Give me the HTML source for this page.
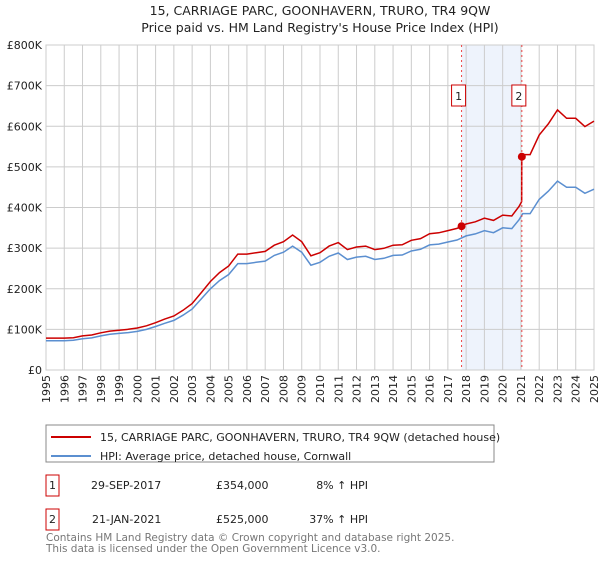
<!DOCTYPE html>
<html><head><meta charset="utf-8"><style>
body{margin:0;background:#fff;font-family:"Liberation Sans","DejaVu Sans",sans-serif;}
svg text{font-family:"DejaVu Sans","Liberation Sans",sans-serif;}
</style></head><body>
<svg id="c" width="600" height="560" viewBox="0 0 600 560">
<text x="320" y="15" text-anchor="middle" font-size="12.5" fill="#222">15, CARRIAGE PARC, GOONHAVERN, TRURO, TR4 9QW</text>
<text x="320" y="32" text-anchor="middle" font-size="12.5" fill="#222">Price paid vs. HM Land Registry's House Price Index (HPI)</text>
<g id="grid"></g><g id="marks"></g>
<g>
<rect x="46" y="425" width="448" height="37" fill="#fff" stroke="#888"/>
<line x1="51" y1="437" x2="91" y2="437" stroke="#cc0000" stroke-width="2"/>
<text x="100" y="441" font-size="11" fill="#222">15, CARRIAGE PARC, GOONHAVERN, TRURO, TR4 9QW (detached house)</text>
<line x1="51" y1="456" x2="91" y2="456" stroke="#5b8fd0" stroke-width="2"/>
<text x="100" y="460" font-size="11" fill="#222">HPI: Average price, detached house, Cornwall</text>
</g>
<g font-size="11" fill="#222">
<rect x="46" y="475" width="13" height="21" fill="#fff" stroke="#cc0000"/>
<text x="52.5" y="489" text-anchor="middle">1</text>
<text x="91" y="489">29-SEP-2017</text><text x="216" y="489">£354,000</text><text x="368" y="489" text-anchor="end">8% ↑ HPI</text>
<rect x="46" y="509" width="13" height="21" fill="#fff" stroke="#cc0000"/>
<text x="52.5" y="523" text-anchor="middle">2</text>
<text x="92" y="523">21-JAN-2021</text><text x="216" y="523">£525,000</text><text x="368" y="523" text-anchor="end">37% ↑ HPI</text>
</g>
<text x="46" y="541" font-size="10.5" fill="#777">Contains HM Land Registry data © Crown copyright and database right 2025.</text>
<text x="46" y="552" font-size="10.5" fill="#777">This data is licensed under the Open Government Licence v3.0.</text>
</svg>
<script>
const years=[1995,1995.5,1996,1996.5,1997,1997.5,1998,1998.5,1999,1999.5,2000,2000.5,2001,2001.5,2002,2002.5,2003,2003.5,2004,2004.5,2005,2005.5,2006,2006.5,2007,2007.5,2008,2008.5,2009,2009.5,2010,2010.5,2011,2011.5,2012,2012.5,2013,2013.5,2014,2014.5,2015,2015.5,2016,2016.5,2017,2017.5,2018,2018.5,2019,2019.5,2020,2020.5,2020.9,2021.1,2021.5,2022,2022.5,2023,2023.5,2024,2024.5,2025];
const hpi=[72,72,72,73,77,79,84,88,90,92,95,100,107,115,122,135,150,175,200,220,235,262,262,265,268,282,290,305,290,258,265,280,288,272,278,280,272,275,282,283,293,297,308,310,315,320,330,335,343,338,350,348,370,385,385,420,440,465,450,450,435,445];
const sales=[{t:2017.75,v:354,label:'1'},{t:2021.05,v:525,label:'2'}];
const yTicks=[0,100,200,300,400,500,600,700,800];
const xTicks=[];for(let y=1995;y<=2025;y++)xTicks.push(y);
const X0=46,X1=594,Y0=370,Y1=45;
const x=t=>X0+(t-1995)/30*(X1-X0);
const y=v=>Y0-v/800*(Y0-Y1);
const NS='http://www.w3.org/2000/svg';
function mk(tag,attrs,parent){const e=document.createElementNS(NS,tag);for(const k in attrs)e.setAttribute(k,attrs[k]);parent.appendChild(e);return e;}
const g=document.getElementById('grid'),m=document.getElementById('marks');
let e=mk('rect',{x:x(sales[0].t),y:Y1,width:x(sales[1].t)-x(sales[0].t),height:Y0-Y1,fill:'#eef3fc'},g);


yTicks.forEach(v=>{
 mk('line',{x1:X0,x2:X1,y1:y(v),y2:y(v),stroke:'#ccc'},g);
 const t=mk('text',{x:X0-4,y:y(v)+4,'text-anchor':'end','font-size':11,fill:'#222'},g);
 t.textContent=v===0?'£0':'£'+v+'K';
 
 
});
xTicks.forEach(yr=>{
 mk('line',{x1:x(yr),x2:x(yr),y1:Y1,y2:Y0,stroke:'#ccc'},g);
 const t=mk('text',{x:0,y:0,'text-anchor':'end','font-size':11,fill:'#222',transform:`translate(${x(yr)+4},${Y0+5}) rotate(-90)`},g);
 t.textContent=yr;
 
 
});
mk('rect',{x:X0,y:Y1,width:X1-X0,height:Y0-Y1,fill:'none',stroke:'#ccc'},g);
function interp(t){for(let i=0;i<years.length-1;i++){if(t<=years[i+1]){const f=(t-years[i])/(years[i+1]-years[i]);return hpi[i]+f*(hpi[i+1]-hpi[i]);}}return hpi[hpi.length-1];}
const f1=sales[0].v/interp(sales[0].t),f2=sales[1].v/interp(sales[1].t);
const hp=years.map((t,i)=>`${i?'L':'M'}${x(t).toFixed(1)},${y(hpi[i]).toFixed(1)}`).join('');
e=mk('path',{d:hp,fill:'none',stroke:'#5b8fd0','stroke-width':1.5},m);


const pts=[];years.forEach((t,i)=>{if(t<sales[1].t)pts.push([t,hpi[i]*f1]);});
pts.push([sales[1].t-0.01,interp(sales[1].t-0.01)*f1]);pts.push([sales[1].t,sales[1].v]);
years.forEach((t,i)=>{if(t>sales[1].t)pts.push([t,hpi[i]*f2]);});
e=mk('path',{d:pts.map((p,i)=>`${i?'L':'M'}${x(p[0]).toFixed(1)},${y(p[1]).toFixed(1)}`).join(''),fill:'none',stroke:'#cc0000','stroke-width':1.5},m);


sales.forEach(s=>{
 e=mk('line',{x1:x(s.t),x2:x(s.t),y1:Y1,y2:Y0,stroke:'#ee4444','stroke-dasharray':'2,3'},m);
 
 
 e=mk('circle',{cx:x(s.t),cy:y(s.v),r:4,fill:'#cc0000'},m);
 
 
 mk('rect',{x:x(s.t)-10,y:85,width:14,height:21,fill:'#fff',stroke:'#cc0000'},m);
 e=mk('text',{x:x(s.t)-3,y:100,'text-anchor':'middle','font-size':11,fill:'#222'},m);
 e.textContent=s.label;
 
 
});
</script>
</body></html>
